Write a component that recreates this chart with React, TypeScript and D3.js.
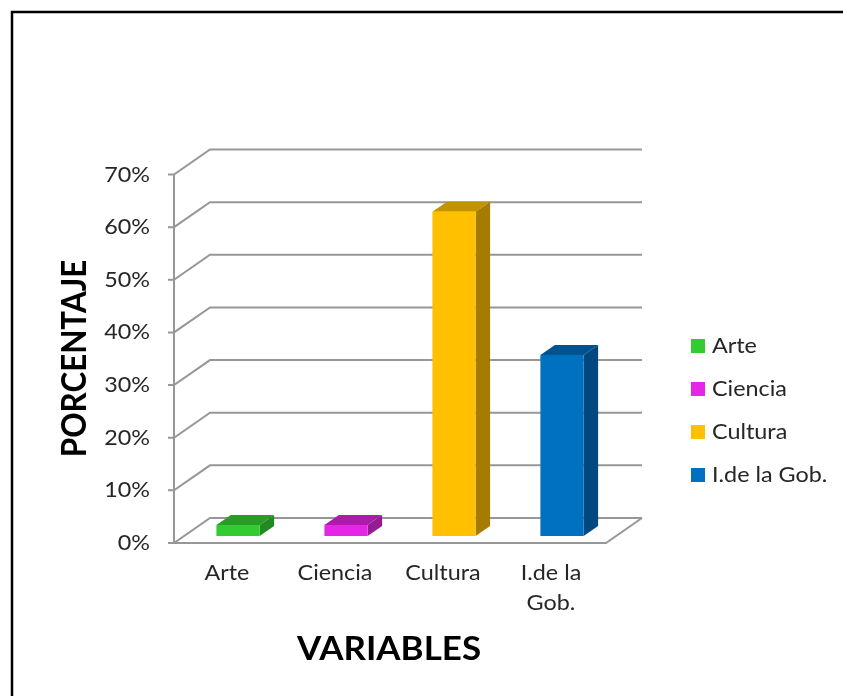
import React from "react";
import * as d3 from "d3";

const categories = ["Arte", "Ciencia", "Cultura", "I.de la Gob."];
const categoryLines = [["Arte"], ["Ciencia"], ["Cultura"], ["I.de la", "Gob."]];
const values = [2.1, 2.1, 61.6, 34.4];
const frontColors = ["#33cc33", "#e626e6", "#ffc000", "#0070c0"];
const topColors = ["#2a9c28", "#ab1fab", "#c29200", "#00528f"];
const sideColors = ["#238a22", "#931b93", "#a67c00", "#004a80"];
const yTicks = [0, 10, 20, 30, 40, 50, 60, 70];

const FONT = "Lato, Carlito, sans-serif";
const GRID = "#979797";
const TEXT = "#262626";
const STRETCH = 1.14;

function Label(props: { x: number; y: number; anchor?: string; children: React.ReactNode }) {
  return (
    <text
      transform={`translate(${props.x},${props.y}) scale(${STRETCH},1)`}
      fontSize={20.5}
      textAnchor={props.anchor ?? "start"}
      fill={TEXT}
    >
      {props.children}
    </text>
  );
}

export default function App() {
  const depthX = 36;
  const depthY = 25;
  const y = d3.scaleLinear().domain([0, 70]).range([543, 174.5]);
  const x = d3.scaleBand().domain(categories).range([174, 606]).paddingInner(0.6).paddingOuter(0.3);
  const barShiftX = 10;
  const barShiftY = 7;
  const barDepthX = 14.5;
  const barDepthY = 10;
  const y0 = y(0);
  const poly = (pts: number[][]) => pts.map((p) => p.join(",")).join(" ");

  return (
    <svg
      width={843}
      height={696}
      style={{ position: "absolute", left: 0, top: 0, background: "#fff" }}
      fontFamily={FONT}
    >
      <defs>
        <filter id="soft" x="0" y="0" width="100%" height="100%" filterUnits="userSpaceOnUse">
          <feGaussianBlur stdDeviation="0.45" />
        </filter>
      </defs>
      <g filter="url(#soft)">
        <path d="M843,12 H12 V696" fill="none" stroke="#000" strokeWidth={2.5} />

        <g fill="none" stroke={GRID} strokeWidth={2}>
          {yTicks.map((t) => (
            <path key={t} d={`M168,${y(t)} H174 L${174 + depthX},${y(t) - depthY} H642`} />
          ))}
          <path d={`M174,${y(70)} V${y0} H606 L642,${y0 - depthY}`} />
        </g>

        {yTicks.map((t) => (
          <Label key={t} x={150} y={y(t) + 7} anchor="end">
            {t}%
          </Label>
        ))}

        {categories.map((c, i) => {
          const left = x(c)! + barShiftX;
          const right = left + x.bandwidth();
          const bottom = y0 - barShiftY;
          const top = y(values[i]) - barShiftY;
          return (
            <g key={c}>
              <polygon
                points={poly([[left, top], [left + barDepthX, top - barDepthY], [right + barDepthX, top - barDepthY], [right, top]])}
                fill={topColors[i]}
              />
              <polygon
                points={poly([[right, top], [right + barDepthX, top - barDepthY], [right + barDepthX, bottom - barDepthY], [right, bottom]])}
                fill={sideColors[i]}
              />
              <rect x={left} y={top} width={right - left} height={bottom - top} fill={frontColors[i]} />
            </g>
          );
        })}

        {categories.map((c, i) =>
          categoryLines[i].map((line, j) => (
            <Label key={line} x={x(c)! + x.bandwidth() / 2 - 1} y={580 + j * 30} anchor="middle">
              {line}
            </Label>
          ))
        )}

        <text
          transform="translate(389,660) scale(1.06,1)"
          fontSize={33}
          fontWeight={700}
          textAnchor="middle"
          fill="#000"
        >
          VARIABLES
        </text>
        <text
          transform="translate(86,358.5) rotate(-90) scale(0.95,1.05)"
          fontSize={33}
          fontWeight={700}
          textAnchor="middle"
          fill="#000"
        >
          PORCENTAJE
        </text>

        {categories.map((c, i) => (
          <g key={c}>
            <rect x={691} y={339 + i * 43} width={14} height={14} fill={frontColors[i]} />
            <Label x={712} y={353 + i * 43}>
              {c}
            </Label>
          </g>
        ))}
      </g>
    </svg>
  );
}
